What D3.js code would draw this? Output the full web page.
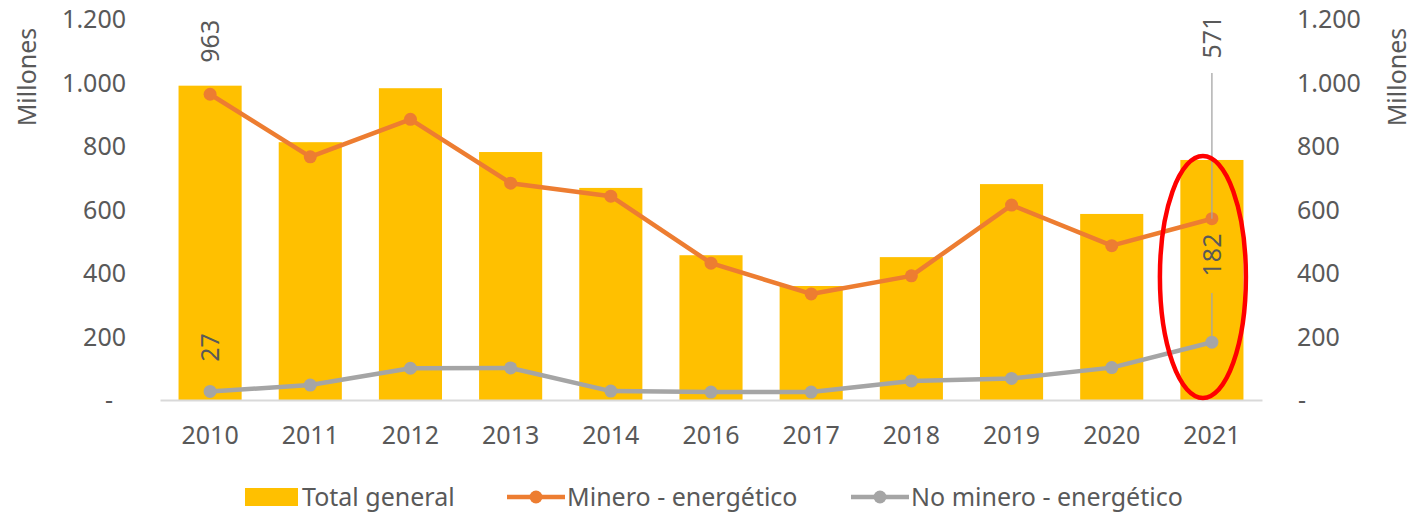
<!DOCTYPE html>
<html>
<head>
<meta charset="utf-8">
<script src="https://cdn.jsdelivr.net/npm/d3@7"></script>
<style>
	body { margin: 0; background: #fff; }
	svg text { font-family: "Noto Sans", sans-serif; fill: #595959; }
</style>
</head>
<body>
<svg id="chart" width="1418" height="514"></svg>
<script>
	//chart data
var years = ['2010', '2011', '2012', '2013', '2014', '2016', '2017', '2018', '2019', '2020', '2021'];
var totalGeneral = [990, 812, 982, 781, 668, 456, 359, 450, 680, 586, 756];
var minero = [963, 766, 884, 683, 642, 431, 334, 391, 614, 486, 571];
var noMinero = [27, 47, 100, 101, 28, 25, 25, 60, 68, 102, 182];
var yTicks = [0, 200, 400, 600, 800, 1000, 1200];

var svg = d3.select('#chart');
var plotLeft = 160, plotRight = 1262, plotTop = 19, plotBottom = 400;

var x = d3.scaleBand().domain(years).range([plotLeft, plotRight]).paddingInner(0.37).paddingOuter(0.185);
var y = d3.scaleLinear().domain([0, 1200]).range([plotBottom, plotTop]);
var cx = function(d, i) { return x(years[i]) + x.bandwidth() / 2; };

	//number format like excel: 1.200 and - for zero
function fmt(v) {
	if (v === 0) return '-';
	return d3.format(',')(v).replace(/,/g, '.');
}

	//left axis
var gl = svg.append('g').attr('transform', 'translate(' + (plotLeft - 34) + ',0)')
	.call(d3.axisLeft(y).tickValues(yTicks).tickFormat(fmt).tickSize(0).tickPadding(0));
gl.select('.domain').remove();
gl.selectAll('text').style('font-size', '25px').attr('dy', '0.35em');
gl.selectAll('.tick').filter(function(d) { return d === 0; }).select('text').attr('x', -13);

	//right axis
var gr = svg.append('g').attr('transform', 'translate(' + (plotRight + 35) + ',0)')
	.call(d3.axisRight(y).tickValues(yTicks).tickFormat(fmt).tickSize(0).tickPadding(0));
gr.select('.domain').remove();
gr.selectAll('text').style('font-size', '25px').attr('dy', '0.35em');
gr.selectAll('.tick').filter(function(d) { return d === 0; }).select('text').attr('x', 1);

	//axis titles
svg.append('text').attr('transform', 'translate(36,77) rotate(-90)')
	.attr('text-anchor', 'middle').style('font-size', '25px').text('Millones');
svg.append('text').attr('transform', 'translate(1406,77) rotate(-90)')
	.attr('text-anchor', 'middle').style('font-size', '25px').text('Millones');

	//bars
svg.append('g').selectAll('rect').data(totalGeneral).enter().append('rect')
	.attr('x', function(d, i) { return x(years[i]); })
	.attr('y', function(d) { return y(d); })
	.attr('width', x.bandwidth())
	.attr('height', function(d) { return y(0) - y(d); })
	.attr('fill', '#FFC000');

	//category axis
var gx = svg.append('g').attr('transform', 'translate(0,' + plotBottom + ')')
	.call(d3.axisBottom(x).tickSize(0).tickPadding(26));
gx.select('.domain').attr('stroke', '#D9D9D9').attr('stroke-width', 2);
gx.selectAll('text').style('font-size', '25px');

	//lines
function drawSeries(data, color) {
	var line = d3.line().x(cx).y(function(d) { return y(d); });
	svg.append('path').datum(data).attr('d', line)
		.attr('fill', 'none').attr('stroke', color).attr('stroke-width', 4.5).attr('stroke-linejoin', 'round');
	svg.append('g').selectAll('circle').data(data).enter().append('circle')
		.attr('cx', cx).attr('cy', function(d) { return y(d); })
		.attr('r', 6.5).attr('fill', color);
}
drawSeries(minero, '#ED7D31');
drawSeries(noMinero, '#A5A5A5');

	//data labels
var last = years.length - 1;
var xLast = cx(null, last);
svg.append('line').attr('x1', xLast).attr('x2', xLast).attr('y1', 73).attr('y2', y(minero[last]))
	.attr('stroke', '#A5A5A5').attr('stroke-width', 1.3);
svg.append('line').attr('x1', xLast).attr('x2', xLast).attr('y1', 293).attr('y2', y(noMinero[last]))
	.attr('stroke', '#A5A5A5').attr('stroke-width', 1.3);

function rotLabel(xp, yp, txt) {
	svg.append('text').attr('transform', 'translate(' + xp + ',' + yp + ') rotate(-90)')
		.attr('text-anchor', 'middle').attr('dy', '0.35em').style('font-size', '25px').text(txt);
}
rotLabel(cx(null, 0), y(minero[0]) - 53, minero[0]);
rotLabel(cx(null, 0), y(noMinero[0]) - 44, noMinero[0]);
rotLabel(xLast, 37, minero[last]);
rotLabel(xLast, 255, noMinero[last]);

	//highlight ellipse
svg.append('ellipse').attr('cx', xLast - 9).attr('cy', 277).attr('rx', 43).attr('ry', 121)
	.attr('fill', 'none').attr('stroke', '#FF0000').attr('stroke-width', 4.5);

	//legend
var lg = svg.append('g').style('font-size', '25px');
lg.append('rect').attr('x', 245).attr('y', 488).attr('width', 53).attr('height', 18).attr('fill', '#FFC000');
lg.append('text').attr('x', 302).attr('y', 497).attr('dy', '0.35em').text('Total general');

var legendLines = [[507, '#ED7D31', 'Minero - energético'], [851, '#A5A5A5', 'No minero - energético']];
legendLines.forEach(function(l) {
	lg.append('line').attr('x1', l[0]).attr('x2', l[0] + 58).attr('y1', 497).attr('y2', 497)
		.attr('stroke', l[1]).attr('stroke-width', 4.5);
	lg.append('circle').attr('cx', l[0] + 29).attr('cy', 497).attr('r', 6.5).attr('fill', l[1]);
	lg.append('text').attr('x', l[0] + 60).attr('y', 497).attr('dy', '0.35em').text(l[2]);
});
</script>
</body>
</html>
